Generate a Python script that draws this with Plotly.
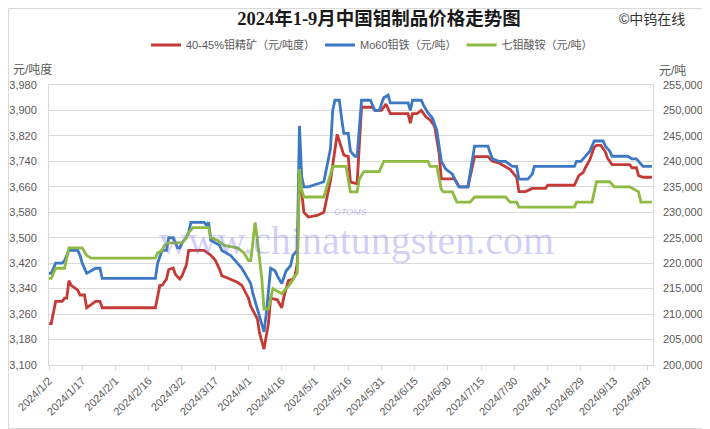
import plotly.graph_objects as go

# ---------------- data ----------------
red_dates = ["2024-01-02","2024-01-03","2024-01-05","2024-01-08","2024-01-09","2024-01-10","2024-01-11","2024-01-12",
             "2024-01-15","2024-01-16","2024-01-18","2024-01-19","2024-01-21","2024-01-23","2024-01-25","2024-01-26",
             "2024-02-19","2024-02-21","2024-02-22","2024-02-24","2024-02-25","2024-02-27","2024-02-28","2024-03-01",
             "2024-03-02","2024-03-04","2024-03-05","2024-03-12","2024-03-15","2024-03-17","2024-03-19","2024-03-20",
             "2024-03-22","2024-03-24","2024-03-27","2024-03-29","2024-03-30","2024-04-01","2024-04-02","2024-04-05",
             "2024-04-06","2024-04-07","2024-04-08","2024-04-10","2024-04-11","2024-04-14","2024-04-16","2024-04-17",
             "2024-04-19","2024-04-21","2024-04-22","2024-04-23","2024-04-24","2024-04-25","2024-04-26","2024-04-28",
             "2024-05-02","2024-05-05","2024-05-08","2024-05-11","2024-05-14","2024-05-16","2024-05-17","2024-05-20",
             "2024-05-22","2024-05-27","2024-05-28","2024-05-31","2024-06-02","2024-06-04","2024-06-12","2024-06-13",
             "2024-06-14","2024-06-16","2024-06-18","2024-06-20","2024-06-22","2024-06-24","2024-06-26","2024-06-27",
             "2024-07-03","2024-07-05","2024-07-09","2024-07-12","2024-07-18","2024-07-20","2024-07-23","2024-07-28",
             "2024-07-31","2024-08-01","2024-08-04","2024-08-07","2024-08-13","2024-08-14","2024-08-26","2024-08-28",
             "2024-08-30","2024-08-31","2024-09-02","2024-09-04","2024-09-05","2024-09-07","2024-09-09","2024-09-10",
             "2024-09-12","2024-09-20","2024-09-21","2024-09-23","2024-09-24","2024-09-26","2024-09-30"]
red_vals = [3230,3230,3300,3300,3310,3310,3365,3350,
            3335,3320,3320,3280,3290,3300,3300,3280,
            3280,3350,3350,3370,3400,3405,3385,3370,
            3380,3415,3460,3460,3445,3430,3400,3380,
            3375,3370,3360,3350,3335,3310,3285,3245,
            3200,3170,3150,3230,3310,3305,3280,3315,
            3365,3370,3380,3420,3700,3645,3580,3565,
            3570,3580,3680,3825,3760,3755,3675,3670,
            3910,3910,3900,3900,3920,3890,3890,3860,
            3890,3890,3900,3880,3870,3850,3765,3685,
            3685,3660,3660,3755,3755,3740,3735,3715,
            3690,3645,3645,3655,3655,3665,3665,3695,
            3705,3720,3745,3785,3790,3790,3770,3750,
            3730,3730,3720,3720,3695,3690,3690]

blue_dates = ["2024-01-02","2024-01-03","2024-01-05","2024-01-08","2024-01-09","2024-01-11","2024-01-12","2024-01-15",
              "2024-01-16","2024-01-17","2024-01-19","2024-01-21","2024-01-23","2024-01-25","2024-01-26","2024-02-19",
              "2024-02-20","2024-02-22","2024-02-24","2024-02-25","2024-02-27","2024-02-29","2024-03-01","2024-03-02",
              "2024-03-04","2024-03-05","2024-03-06","2024-03-12","2024-03-13","2024-03-14","2024-03-15","2024-03-17",
              "2024-03-19","2024-03-20","2024-03-22","2024-03-24","2024-03-27","2024-03-29","2024-03-31","2024-04-02",
              "2024-04-03","2024-04-05","2024-04-06","2024-04-08","2024-04-09","2024-04-11","2024-04-13","2024-04-14",
              "2024-04-16","2024-04-18","2024-04-20","2024-04-21","2024-04-23","2024-04-24","2024-04-25","2024-04-26",
              "2024-04-28","2024-05-02","2024-05-05","2024-05-08","2024-05-09","2024-05-10","2024-05-12","2024-05-13",
              "2024-05-14","2024-05-16","2024-05-17","2024-05-19","2024-05-20","2024-05-22","2024-05-26","2024-05-28",
              "2024-05-30","2024-06-01","2024-06-03","2024-06-04","2024-06-12","2024-06-13","2024-06-14","2024-06-18",
              "2024-06-19","2024-06-21","2024-06-23","2024-06-25","2024-06-26","2024-06-27","2024-06-29","2024-07-02",
              "2024-07-03","2024-07-05","2024-07-09","2024-07-12","2024-07-18","2024-07-20","2024-07-23","2024-07-26",
              "2024-07-29","2024-07-31","2024-08-01","2024-08-05","2024-08-07","2024-08-08","2024-08-26","2024-08-27",
              "2024-08-29","2024-08-31","2024-09-02","2024-09-04","2024-09-08","2024-09-09","2024-09-11","2024-09-12",
              "2024-09-19","2024-09-21","2024-09-23","2024-09-25","2024-09-26","2024-09-30"]
blue_vals = [218000,218000,220000,220000,220500,222500,222500,222500,
             221500,220000,218000,218500,219000,219000,217000,217000,
             220000,222500,222500,225000,225000,223000,223000,224000,
             225000,226000,228000,228000,227500,228000,224500,224000,
             223500,222500,222000,221500,220000,219000,217500,216000,
             214000,211000,209000,206500,210000,219000,218500,217500,
             216000,218500,219500,221500,222500,247000,237000,235000,
             235000,235500,236000,242500,250000,252000,252000,248500,
             245500,245500,242000,241000,241000,252000,252000,250000,
             250000,252500,253000,251500,251500,250000,252000,252000,
             251000,249500,248500,246000,243000,240000,238500,237500,
             236500,235000,235000,243000,243000,240500,240000,240000,
             239000,239000,236500,236500,237500,239000,239000,240000,
             240000,241000,242000,244000,244000,243000,242000,241000,
             241000,240500,240500,239500,239000,239000]

green_dates = ["2024-01-02","2024-01-03","2024-01-05","2024-01-09","2024-01-11","2024-01-17","2024-01-19","2024-01-21",
               "2024-02-19","2024-02-20","2024-02-22","2024-02-23","2024-02-25","2024-03-02","2024-03-04","2024-03-05",
               "2024-03-07","2024-03-14","2024-03-15","2024-03-18","2024-03-21","2024-03-27","2024-03-30","2024-04-01",
               "2024-04-02","2024-04-04","2024-04-05","2024-04-07","2024-04-08","2024-04-10","2024-04-12","2024-04-14",
               "2024-04-16","2024-04-18","2024-04-20","2024-04-22","2024-04-23","2024-04-24","2024-04-25","2024-04-26",
               "2024-05-05","2024-05-08","2024-05-09","2024-05-15","2024-05-17","2024-05-20","2024-05-21","2024-05-23",
               "2024-05-30","2024-06-01","2024-06-21","2024-06-22","2024-06-25","2024-06-27","2024-06-28","2024-07-02",
               "2024-07-04","2024-07-10","2024-07-12","2024-07-26","2024-07-28","2024-07-31","2024-08-01","2024-08-26",
               "2024-08-27","2024-09-03","2024-09-05","2024-09-11","2024-09-13","2024-09-20","2024-09-22","2024-09-24",
               "2024-09-25","2024-09-30"]
green_vals = [217000,217000,219000,219000,223000,223000,221500,221000,
              221000,222000,222500,223500,224000,224000,225000,226000,
              227000,227000,225000,224500,223500,223000,222000,220500,
              220500,228000,224500,217000,211000,211000,215000,214500,
              214000,215000,216000,217500,218000,238500,234500,233000,
              233000,237500,239000,239000,234000,234000,236500,238000,
              238000,240000,240000,239000,239000,234500,234000,234000,
              232000,232000,233000,233000,232000,232000,231000,231000,
              232000,232000,236000,236000,235000,235000,234500,234000,
              232000,232000]

series_names = ["40-45%钼精矿（元/吨度）", "Mo60钼铁（元/吨）", "七钼酸铵（元/吨）"]
series_colors = ["#C43A36", "#3C78C3", "#8DBA41"]

tick_dates = ["2024-01-02","2024-01-17","2024-02-01","2024-02-16","2024-03-02","2024-03-17","2024-04-01",
              "2024-04-16","2024-05-01","2024-05-16","2024-05-31","2024-06-15","2024-06-30","2024-07-15",
              "2024-07-30","2024-08-14","2024-08-29","2024-09-13","2024-09-28"]
tick_labels = ["2024/1/2","2024/1/17","2024/2/1","2024/2/16","2024/3/2","2024/3/17","2024/4/1",
               "2024/4/16","2024/5/1","2024/5/16","2024/5/31","2024/6/15","2024/6/30","2024/7/15",
               "2024/7/30","2024/8/14","2024/8/29","2024/9/13","2024/9/28"]

# ---------------- layout helpers ----------------
# The page body has an 8px default margin, so the figure is drawn 8px smaller
# and all reference pixel positions are offset accordingly.
OFF = 8
WIN_W, WIN_H = 710, 429
W, H = WIN_W - OFF, WIN_H - OFF
PL, PR, PT, PB = 49, 653, 85, 365          # plot area in window pixels
L, R, T, B = PL - OFF, WIN_W - PR, PT - OFF, WIN_H - PB
PW, PH = PR - PL, PB - PT

def px(x):
    return (x - PL) / PW

def py(y):
    return (PB - y) / PH

GRAY = "#595959"
LINE = "#d9d9d9"
SANS = "Liberation Sans, Noto Sans CJK SC, sans-serif"

fig = go.Figure()
fig.add_trace(go.Scatter(x=red_dates, y=red_vals, mode="lines", name=series_names[0],
                         line=dict(color=series_colors[0], width=2.8)))
fig.add_trace(go.Scatter(x=blue_dates, y=blue_vals, mode="lines", name=series_names[1], yaxis="y2",
                         line=dict(color=series_colors[1], width=2.8)))
fig.add_trace(go.Scatter(x=green_dates, y=green_vals, mode="lines", name=series_names[2], yaxis="y2",
                         line=dict(color=series_colors[2], width=2.8)))

fig.update_layout(
    width=W, height=H,
    margin=dict(l=L, r=R, t=T, b=B, autoexpand=False),
    paper_bgcolor="white", plot_bgcolor="white",
    font=dict(family=SANS, size=11, color=GRAY),
    title=dict(text="<b>2024年1-9月中国钼制品价格走势图</b>",
               x=(379 - OFF) / W, xref="container", xanchor="center",
               y=1 - (19 - OFF) / H, yref="container", yanchor="middle",
               font=dict(family="Liberation Serif, Noto Sans CJK SC, serif", size=18.5, color="#1a1a1a")),
    showlegend=True,
    legend=dict(orientation="h", x=px(372), xanchor="center", y=py(45), yanchor="middle",
                font=dict(family=SANS, size=11, color=GRAY), bgcolor="rgba(0,0,0,0)",
                itemwidth=30, tracegroupgap=0),
    xaxis=dict(type="date", range=["2024-01-02", "2024-09-30T12:00"],
               tickmode="array", tickvals=tick_dates, ticktext=tick_labels, tickangle=-45,
               ticks="outside", ticklen=4, tickcolor=LINE,
               showline=True, linecolor=LINE, linewidth=1, mirror=True,
               showgrid=False, zeroline=False,
               tickfont=dict(family=SANS, size=11, color=GRAY)),
    yaxis=dict(range=[3100, 3980], tick0=3100, dtick=80, tickformat=",",
               showgrid=True, gridcolor=LINE, gridwidth=1.3,
               showline=True, linecolor=LINE, linewidth=1, mirror=True,
               zeroline=False, ticks="", ticklabelstandoff=9,
               tickfont=dict(family=SANS, size=11, color=GRAY)),
    yaxis2=dict(overlaying="y", side="right", range=[200000, 255000], tick0=200000, dtick=5000,
                tickformat=",", showgrid=False, showline=False, zeroline=False, ticks="",
                ticklabelstandoff=9, tickfont=dict(family=SANS, size=11, color=GRAY)),
)

annotations = [
    dict(text="©中钨在线", x=px(652), y=py(19), font=dict(family=SANS, size=14, color="#333333")),
    dict(text="元/吨度", x=px(32), y=py(70), font=dict(family=SANS, size=12, color=GRAY)),
    dict(text="元/吨", x=px(672), y=py(71), font=dict(family=SANS, size=12, color=GRAY)),
    dict(text="www.chinatungsten.com", x=px(356), y=py(240),
         font=dict(family="Liberation Serif, serif", size=40, color="rgba(110,110,235,0.33)")),
    dict(text="<i>GTOMS</i>", x=px(350), y=py(212),
         font=dict(family=SANS, size=9, color="rgba(110,110,235,0.45)")),
]
for a in annotations:
    a.update(xref="paper", yref="paper", showarrow=False, xanchor="center", yanchor="middle")
fig.update_layout(annotations=annotations)

fig.add_shape(type="rect", xref="paper", yref="paper",
              x0=px(OFF + 0.5), x1=px(WIN_W - 0.5), y0=py(WIN_H - 0.5), y1=py(OFF + 0.5),
              line=dict(color=LINE, width=1), fillcolor="rgba(0,0,0,0)", layer="below")

fig.write_html("out.html")
